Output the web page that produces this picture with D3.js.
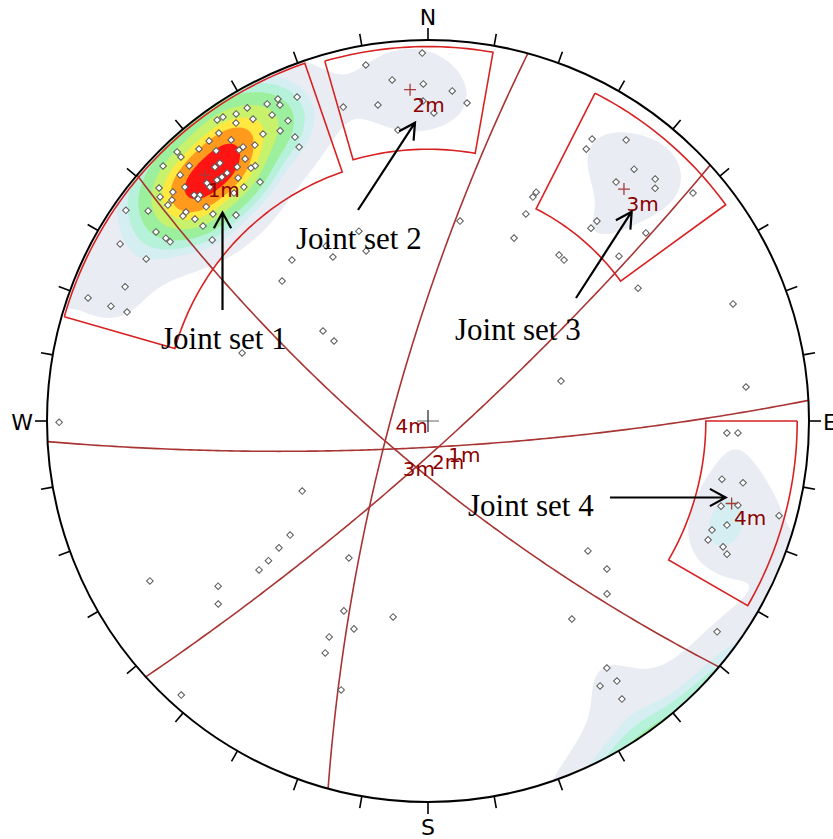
<!DOCTYPE html>
<html>
<head>
<meta charset="utf-8">
<script src="https://cdn.jsdelivr.net/npm/d3@7"></script>
<style>
  html, body { margin: 0; padding: 0; background: #ffffff; }
  svg { display: block; }
</style>
</head>
<body>
<svg id="chart" width="833" height="839"></svg>
<script>
// ---------------------------------------------------------------
// Joint poles, lower hemisphere: trend (deg from N) and plunge (deg)
// ---------------------------------------------------------------
const poleTrend = [
  338.0, 335.0, 334.9, 333.1, 330.0, 333.0, 328.0, 326.0, 325.0, 329.9,
  335.0, 327.2, 333.0, 330.1, 334.9, 334.8, 324.0, 325.0, 322.0, 326.0,
  327.9, 325.1, 319.9, 321.9, 317.0, 316.9, 325.1, 313.9, 316.9, 325.9,
  325.0, 320.0, 321.1, 323.1, 314.8, 322.0, 324.9, 321.8, 310.9, 313.9,
  317.1, 309.9, 311.9, 314.0, 314.7, 314.0, 319.6, 310.8, 309.7, 314.0,
  304.9, 306.9, 310.8, 309.9, 313.9, 317.0, 310.9, 310.9, 304.8, 304.9,
  304.8, 310.0, 299.9, 299.9, 293.9, 289.9, 289.9, 289.9, 313.8, 319.8,
  321.0, 319.8, 318.8, 317.0,
  359.1, 350.1, 354.0, 359.2, 4.2, 344.9, 351.0, 359.1, 7.0, 1.1, 354.1,
  30.2, 30.2, 35.2, 39.3, 38.2, 43.2, 44.3, 49.3, 40.2, 40.2, 49.2, 49.2,
  25.3, 25.1, 25.3, 25.2, 38.3, 40.2, 57.7, 9.1,
  92.3, 92.2, 101.2, 101.1, 106.2, 105.2, 105.1, 109.2, 111.0, 113.0, 113.1, 114.0,
  144.0, 126.1, 144.1, 144.0, 147.0, 145.1,
  340.0, 340.0, 329.9, 329.8, 310.6, 310.4, 290.1,
  269.8, 69.0, 73.3, 83.9,
  240.9, 230.4, 229.6, 228.8, 228.6, 231.8, 228.9, 240.1,
  210.0, 203.9, 199.6, 204.6, 203.9, 190.1, 197.9, 222.0,
  129.1, 129.6, 134.0
];
const polePlunge = [
  4.95, 4.02, 5.03, 3.96, 3.0, 5.93, 2.92, 2.2, 2.06, 5.03,
  8.0, 4.13, 8.96, 8.03, 11.09, 13.05, 3.91, 5.98, 3.97, 8.1,
  8.94, 8.15, 3.95, 5.96, 2.01, 3.0, 10.02, 2.03, 4.95, 12.07,
  11.96, 7.95, 7.96, 10.34, 4.98, 12.01, 15.05, 14.0, 3.91, 6.95,
  9.10, 4.98, 6.05, 9.04, 9.77, 10.01, 13.69, 6.81, 6.84, 12.04,
  1.94, 4.87, 9.99, 10.04, 13.86, 17.08, 12.03, 13.99, 7.99, 10.02,
  11.01, 17.04, 4.02, 9.05, 7.98, 3.0, 6.98, 9.93, 34.09, 32.1,
  10.08, 10.07, 9.89, 9.98,
  1.99, 3.03, 6.02, 7.0, 8.05, 9.04, 9.96, 9.94, 9.88, 12.08, 14.98,
  8.86, 10.91, 5.88, 9.0, 12.81, 7.89, 9.04, 4.93, 21.03, 22.93, 15.86, 22.98,
  22.81, 24.02, 27.98, 34.11, 31.94, 32.1, 23.77, 34.03,
  13.72, 11.7, 13.63, 9.77, 12.62, 9.74, 2.68, 10.56, 12.79, 12.78, 9.81, 8.67,
  24.57, 3.59, 12.64, 9.7, 10.67, 6.68,
  34.13, 39.19, 37.1, 34.02, 50.1, 54.1, 35.09,
  1.85, 8.77, 49.95, 9.98,
  48.6, 39.67, 35.62, 31.8, 28.82, 19.94, 17.69, 9.81,
  44.9, 32.81, 29.84, 26.13, 22.68, 34.84, 16.86, 1.87,
  33.18, 27.28, 23.69
];

// Mean set poles
const setLabels  = ["1m", "2m", "3m", "4m"];
const meanTrend  = [317.8, 356.9, 40.2, 105.2];
const meanPlunge = [7.9, 7.9, 12.9, 10.9];

// Set windows (trend range clockwise, plunge range)
const winTrendFrom = [286, 344, 27, 90];
const winTrendTo   = [341, 10, 54, 120];
const winPlungeLo  = [0.4, 1.0, 2.0, 1.8];
const winPlungeHi  = [20.7, 19.0, 26.0, 17.8];

// Pole density contour levels (multiples of uniform density);
// the outermost level uses a wider counting kernel
const outerLevel    = 2.35;
const contourLevels = [4.9, 6.6, 8.7, 11.7, 14.4, 16.3, 18.8];
const contourColors = ["#e9edf3", "#d4eef1", "#b6f1d9", "#9cef9c",
                       "#c8f16c", "#ffe840", "#ff9a1c", "#ff1414"];

// Compass
const compassText = ["N", "E", "S", "W"];
const tickAz = d3.range(0, 360, 10);

// Annotations
const noteText = ["Joint set 1", "Joint set 2", "Joint set 3", "Joint set 4"];

// ---------------------------------------------------------------
const cx = 428, cy = 421, R = 381;
const kappaWide = 100, kappa = 150;

const svg = d3.select("#chart");
svg.append("rect").attr("width", 833).attr("height", 839).attr("fill", "#fff");

// Equal-angle, lower hemisphere: plunge -> latitude, trend -> longitude
const proj = d3.geoStereographic()
  .rotate([0, -90])
  .scale(R)
  .translate([cx, cy])
  .clipAngle(90)
  .precision(0.2);
const path = d3.geoPath(proj);
const geo = (t, p) => [180 - t, p];
const rad = Math.PI / 180;
const dirVec = (t, p) => [Math.cos(p * rad) * Math.cos(t * rad),
                          Math.cos(p * rad) * Math.sin(t * rad),
                          Math.sin(p * rad)];

svg.append("defs").append("clipPath").attr("id", "net-clip")
  .append("circle").attr("cx", cx).attr("cy", cy).attr("r", R);

// ---- density grids (axial Fisher kernel) ----
const poles = poleTrend.map((t, i) => dirVec(t, polePlunge[i]));
const step = 3, pad = 6;
const gx0 = cx - R - pad, gy0 = cy - R - pad;
const nx = Math.ceil(2 * (R + pad) / step), ny = nx;
const gridWide = new Float64Array(nx * ny);
const grid = new Float64Array(nx * ny);
for (let j = 0; j < ny; j++) {
  for (let i = 0; i < nx; i++) {
    const ll = proj.invert([gx0 + (i + 0.5) * step, gy0 + (j + 0.5) * step]);
    const g = dirVec(180 - ll[0], ll[1]);
    let s = 0, sw = 0;
    for (const v of poles) {
      const d = Math.abs(g[0] * v[0] + g[1] * v[1] + g[2] * v[2]);
      if (d > 0.88) {
        sw += Math.exp(kappaWide * (d - 1));
        s += Math.exp(kappa * (d - 1));
      }
    }
    gridWide[j * nx + i] = sw * kappaWide / poles.length;
    grid[j * nx + i] = s * kappa / poles.length;
  }
}
const contours = [
  ...d3.contours().size([nx, ny]).thresholds([outerLevel])(gridWide),
  ...d3.contours().size([nx, ny]).thresholds(contourLevels)(grid)
];
const gridPath = d3.geoPath(d3.geoTransform({
  point(x, y) { this.stream.point(gx0 + x * step, gy0 + y * step); }
}));
svg.append("g").attr("clip-path", "url(#net-clip)")
  .selectAll("path").data(contours).join("path")
  .attr("d", gridPath)
  .attr("fill", (d, i) => contourColors[i])
  .attr("stroke", "none");

// ---- mean planes (great circles) ----
const gcLayer = svg.append("g");
meanTrend.forEach((t, i) => {
  const ring = d3.geoCircle().center(geo(t, meanPlunge[i])).radius(90).precision(1)().coordinates[0];
  gcLayer.append("path")
    .attr("d", path({ type: "LineString", coordinates: ring }))
    .attr("fill", "none").attr("stroke", "#a83434").attr("stroke-width", 1.6);
});

// ---- set windows ----
const winLayer = svg.append("g");
winTrendFrom.forEach((t0, i) => {
  const span = ((winTrendTo[i] - t0) + 360) % 360;
  const n = Math.ceil(span);
  const pts = [];
  for (let k = 0; k <= n; k++) pts.push(geo(t0 + span * k / n, winPlungeLo[i]));
  for (let k = 0; k <= n; k++) pts.push(geo(t0 + span * (n - k) / n, winPlungeHi[i]));
  pts.push(pts[0]);
  winLayer.append("path")
    .attr("d", path({ type: "LineString", coordinates: pts }))
    .attr("fill", "none").attr("stroke", "#d82222").attr("stroke-width", 1.6)
    .attr("stroke-linejoin", "miter");
});

// ---- poles ----
svg.append("g").selectAll("path").data(d3.range(poleTrend.length)).join("path")
  .attr("transform", i => {
    const [x, y] = proj(geo(poleTrend[i], polePlunge[i]));
    return `translate(${x},${y}) rotate(45)`;
  })
  .attr("d", d3.symbol(d3.symbolSquare, 22))
  .attr("fill", "#fff").attr("stroke", "#5a5a5a").attr("stroke-width", 1);

// ---- centre cross ----
const cc = svg.append("g").attr("stroke-width", 1.3);
cc.append("line").attr("x1", cx - 11).attr("x2", cx + 11).attr("y1", cy).attr("y2", cy).attr("stroke", "#888");
cc.append("line").attr("x1", cx).attr("x2", cx).attr("y1", cy - 11).attr("y2", cy + 11).attr("stroke", "#333");

// ---- mean pole crosses and labels ----
const mLayer = svg.append("g");
meanTrend.forEach((t, i) => {
  const [px, py] = proj(geo(t, meanPlunge[i]));
  mLayer.append("path")
    .attr("d", `M${px - 6},${py}H${px + 6}M${px},${py - 6}V${py + 6}`)
    .attr("stroke", "#a83a3a").attr("stroke-width", 1.3).attr("fill", "none");
  const [qx, qy] = proj(geo((t + 180) % 360, 90 - meanPlunge[i]));
  [[px, py], [qx, qy]].forEach(([x, y]) => {
    mLayer.append("text")
      .attr("x", x + 2.5).attr("y", y + 22)
      .attr("font-family", "DejaVu Sans, sans-serif").attr("font-size", 20)
      .attr("fill", "#8b0000").text(setLabels[i]);
  });
});

// ---- primitive circle, ticks, compass ----
const frame = svg.append("g");
frame.append("circle").attr("cx", cx).attr("cy", cy).attr("r", R)
  .attr("fill", "none").attr("stroke", "#000").attr("stroke-width", 2);
frame.selectAll("line.tick").data(tickAz).join("line").attr("class", "tick")
  .attr("x1", a => cx + R * Math.sin(a * rad)).attr("y1", a => cy - R * Math.cos(a * rad))
  .attr("x2", a => cx + (R + 12) * Math.sin(a * rad)).attr("y2", a => cy - (R + 12) * Math.cos(a * rad))
  .attr("stroke", "#000").attr("stroke-width", 1.6);
const compassPos = [
  { x: cx, y: cy - R - 15, anchor: "middle" },
  { x: cx + R + 14, y: cy + 9, anchor: "start" },
  { x: cx, y: cy + R + 33, anchor: "middle" },
  { x: cx - R - 14, y: cy + 9, anchor: "end" }
];
compassText.forEach((s, i) => {
  frame.append("text").attr("x", compassPos[i].x).attr("y", compassPos[i].y)
    .attr("text-anchor", compassPos[i].anchor)
    .attr("font-family", "DejaVu Sans, sans-serif").attr("font-size", 22)
    .attr("fill", "#000").text(s);
});

// ---- annotations ----
const notePos = [
  { x: 161, y: 349, from: [222.5, 310], to: [222.5, 212.5] },
  { x: 296, y: 249, from: [358, 210], to: [415, 122.7] },
  { x: 455, y: 340, from: [576, 298], to: [631.7, 211.7] },
  { x: 468, y: 516, from: [610, 497.5], to: [725.7, 497.5] }
];
const nLayer = svg.append("g");
noteText.forEach((s, i) => {
  const p = notePos[i];
  nLayer.append("text").attr("x", p.x).attr("y", p.y)
    .attr("font-family", "Liberation Serif, Times New Roman, serif").attr("font-size", 31)
    .attr("fill", "#000").text(s);
  const [x1, y1] = p.from, [x2, y2] = p.to;
  const ang = Math.atan2(y2 - y1, x2 - x1);
  const hl = 18, hw = 0.5;
  const a1 = [x2 - hl * Math.cos(ang - hw), y2 - hl * Math.sin(ang - hw)];
  const a2 = [x2 - hl * Math.cos(ang + hw), y2 - hl * Math.sin(ang + hw)];
  nLayer.append("path")
    .attr("d", `M${x1},${y1}L${x2},${y2}M${a1[0]},${a1[1]}L${x2},${y2}L${a2[0]},${a2[1]}`)
    .attr("fill", "none").attr("stroke", "#000").attr("stroke-width", 2.2)
    .attr("stroke-linejoin", "miter");
});
</script>
</body>
</html>
